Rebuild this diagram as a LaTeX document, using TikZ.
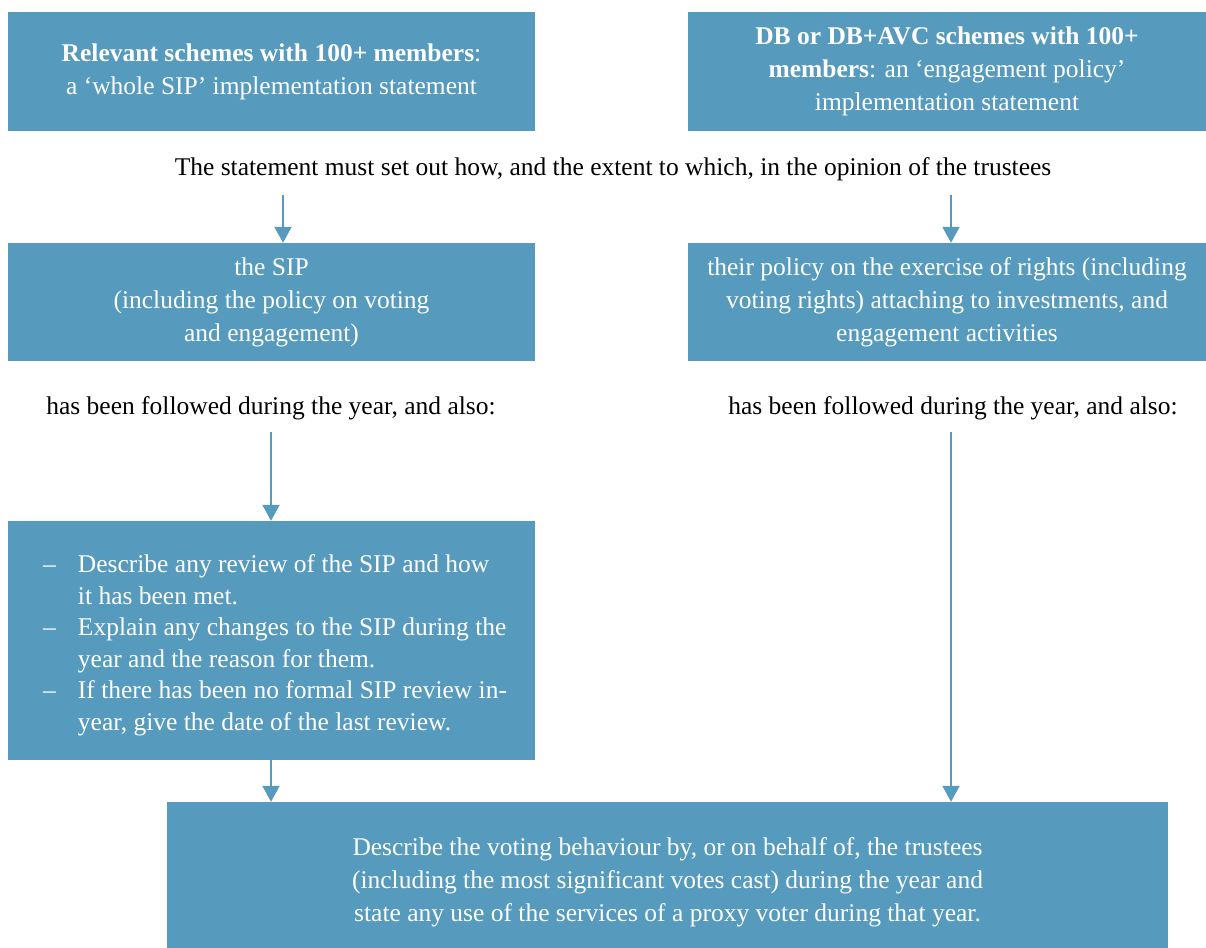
\documentclass[tikz,border=0pt]{standalone}
\usepackage{fontspec}
\setmainfont{Liberation Serif}
\usetikzlibrary{arrows.meta}
\definecolor{boxblue}{RGB}{86,154,190}
\tikzset{
  box/.style={fill=boxblue, text=white, align=center, inner sep=0pt,
    font=\fontsize{25.5}{33}\selectfont},
  plain/.style={font=\fontsize{25.5}{33}\selectfont, inner sep=0pt},
  arr/.style={draw=boxblue, line width=2pt, -{Triangle[width=17pt,length=16pt]}},
}
\begin{document}
\begin{tikzpicture}[x=1pt,y=-1pt]
      \useasboundingbox (0,0) rectangle (1206,947);
      % top boxes
      \node[box, minimum width=527pt, minimum height=119pt] (whole) at (271.5,71.5)
        {\textbf{Relevant schemes with 100+ members}:\\a `whole SIP' implementation statement};
      \node[box, minimum width=518pt, minimum height=119pt] (engage) at (947,71.5)
        {\textbf{DB or DB+AVC schemes with 100+}\\\textbf{members}: an `engagement policy'\\implementation statement};
      \node[plain] (stmt) at (613,169)
        {The statement must set out how, and the extent to which, in the opinion of the trustees};
      % second row
      \node[box, minimum width=527pt, minimum height=118pt] (sip) at (271.5,302)
        {the SIP\\(including the policy on voting\\and engagement)};
      \node[box, minimum width=518pt, minimum height=118pt] (rights) at (947,302)
        {their policy on the exercise of rights (including\\voting rights) attaching to investments, and\\engagement activities};
      \node[plain] (followL) at (271,408) {has been followed during the year, and also:};
      \node[plain] (followR) at (953,408) {has been followed during the year, and also:};
      % list box
      \node[box, minimum width=527pt, minimum height=239pt] (review) at (271.5,640.5) {};
      \node[text=white, font=\fontsize{25.5}{33}\selectfont, inner sep=0pt, anchor=west]
        (items) at (43,645)
        {\begin{tabular}{@{}l@{\hspace{22pt}}l@{}}
          -- & Describe any review of the SIP and how\\[-1.5pt]
             & it has been met.\\[-1.5pt]
          -- & Explain any changes to the SIP during the\\[-1.5pt]
             & year and the reason for them.\\[-1.5pt]
          -- & If there has been no formal SIP review in-\\[-1.5pt]
             & year, give the date of the last review.
        \end{tabular}};
      % bottom box runs off the page
      \node[box, minimum width=1001pt, minimum height=160pt] (voting) at (667.5,882)
        {Describe the voting behaviour by, or on behalf of, the trustees\\(including the most significant votes cast) during the year and\\state any use of the services of a proxy voter during that year.};
      % arrow ends
      \coordinate (s1) at (283,195);
      \coordinate (s2) at (951,195);
      \coordinate (s3) at (271,432);
      \coordinate (s4) at (951,432);
      \begin{scope}[arr]
        \draw (s1) -- (s1 |- sip.north);
        \draw (s2) -- (s2 |- rights.north);
        \draw (s3) -- (s3 |- review.north);
        \draw (s4) -- (s4 |- voting.north);
        \draw (s3 |- review.south) -- (s3 |- voting.north);
      \end{scope}
    \end{tikzpicture}
\end{document}
